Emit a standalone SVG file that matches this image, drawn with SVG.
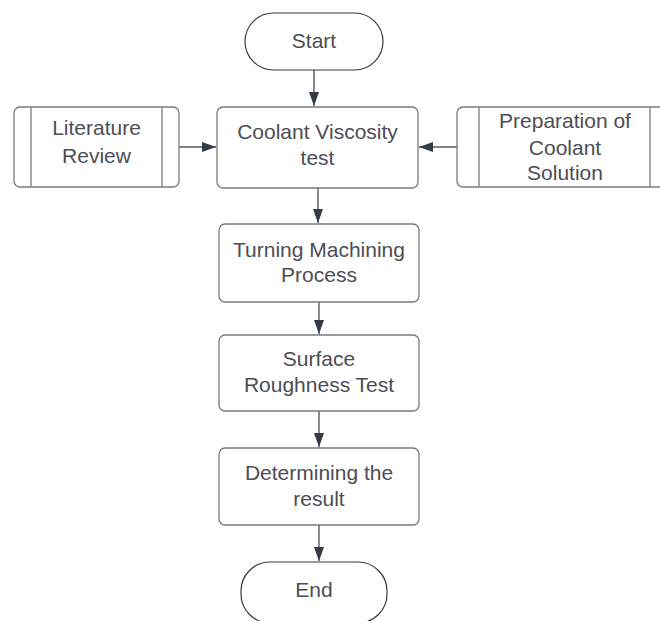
<svg xmlns="http://www.w3.org/2000/svg" width="660" height="621" viewBox="0 0 660 621">
<defs>
<style>
.box{fill:#ffffff;stroke:#7a7a7a;stroke-width:1.3}
.term{fill:#ffffff;stroke:#3a3a3a;stroke-width:1.2}
.inner{stroke:#7a7a7a;stroke-width:1.3;fill:none}
.lbl{font-family:"Liberation Sans",Arial,sans-serif;font-size:21px;fill:#4d4d55;text-anchor:middle}
.conn{stroke:#5a5a5a;stroke-width:1.4;fill:none}
</style>
<marker id="av" viewBox="0 0 14 10" refX="14" refY="5" markerWidth="14" markerHeight="11" markerUnits="userSpaceOnUse" orient="auto">
<path d="M0,0 L14,5 L0,10 z" fill="#333b47"/>
</marker>
</defs>
<rect width="660" height="621" fill="#ffffff"/>
<g id="connectors">
<line class="conn" x1="314" y1="70" x2="314" y2="106" marker-end="url(#av)"/>
<line class="conn" x1="179" y1="147" x2="216" y2="147" marker-end="url(#av)"/>
<line class="conn" x1="457" y1="147" x2="419" y2="147" marker-end="url(#av)"/>
<line class="conn" x1="318" y1="188" x2="318" y2="223" marker-end="url(#av)"/>
<line class="conn" x1="319" y1="302" x2="319" y2="334" marker-end="url(#av)"/>
<line class="conn" x1="319" y1="411" x2="319" y2="447" marker-end="url(#av)"/>
<line class="conn" x1="319" y1="525" x2="319" y2="561" marker-end="url(#av)"/>
</g>
<g id="start">
<rect class="term" x="245" y="13" width="138" height="57" rx="28.5"/>
<text class="lbl" x="314" y="48">Start</text>
</g>
<g id="literature">
<rect class="box" x="14" y="107" width="165" height="80" rx="6"/>
<line class="inner" x1="31" y1="107" x2="31" y2="187"/>
<line class="inner" x1="162" y1="107" x2="162" y2="187"/>
<text class="lbl" x="96.5" y="135">Literature</text>
<text class="lbl" x="96.5" y="163">Review</text>
</g>
<g id="viscosity">
<rect class="box" x="217" y="107" width="201" height="81" rx="6"/>
<text class="lbl" x="317.5" y="139">Coolant Viscosity</text>
<text class="lbl" x="317.5" y="165">test</text>
</g>
<g id="preparation">
<rect class="box" x="457" y="107" width="215" height="80" rx="6"/>
<line class="inner" x1="479" y1="107" x2="479" y2="187"/>
<line class="inner" x1="650" y1="107" x2="650" y2="187"/>
<text class="lbl" x="565" y="128">Preparation of</text>
<text class="lbl" x="565" y="155">Coolant</text>
<text class="lbl" x="565" y="180">Solution</text>
</g>
<g id="turning">
<rect class="box" x="219" y="224" width="200" height="78" rx="6"/>
<text class="lbl" x="319" y="257">Turning Machining</text>
<text class="lbl" x="319" y="282">Process</text>
</g>
<g id="surface">
<rect class="box" x="219" y="335" width="200" height="76" rx="6"/>
<text class="lbl" x="319" y="366">Surface</text>
<text class="lbl" x="319" y="392">Roughness Test</text>
</g>
<g id="determining">
<rect class="box" x="219" y="448" width="200" height="77" rx="6"/>
<text class="lbl" x="319" y="480">Determining the</text>
<text class="lbl" x="319" y="506">result</text>
</g>
<g id="end">
<rect class="term" x="241" y="562" width="146" height="61" rx="29"/>
<text class="lbl" x="314" y="597">End</text>
</g>
</svg>
